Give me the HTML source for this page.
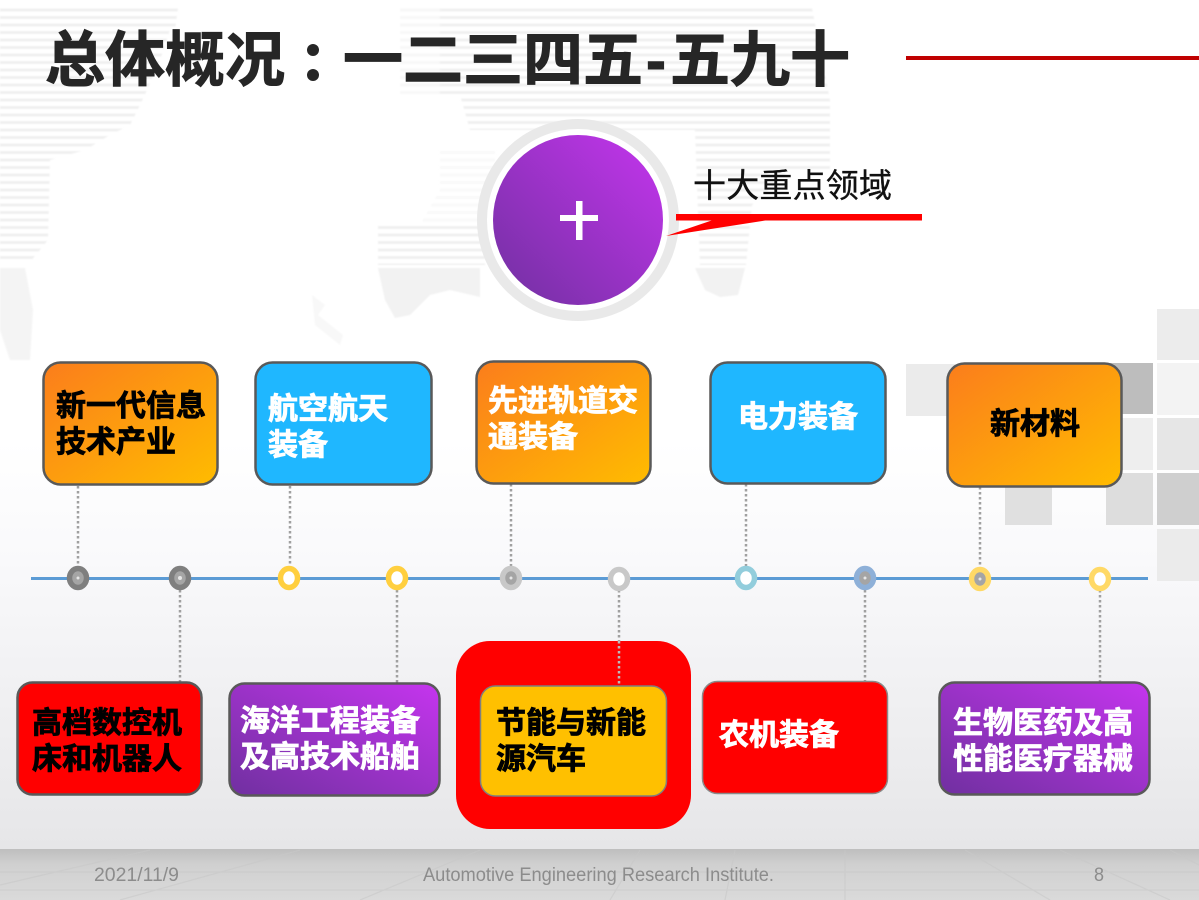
<!DOCTYPE html>
<html lang="zh"><head><meta charset="utf-8"><style>
html,body{margin:0;padding:0;background:#fff}
svg{display:block}
.t{font-family:"Liberation Sans","Noto Sans CJK SC",sans-serif;font-weight:700;font-size:30px}
</style></head><body>
<svg width="1199" height="900" viewBox="0 0 1199 900" xmlns="http://www.w3.org/2000/svg">
<defs>
<linearGradient id="bg" x1="0" y1="0" x2="0" y2="1"><stop offset="0" stop-color="#fff"/><stop offset=".52" stop-color="#fff"/><stop offset=".66" stop-color="#f9f9fb"/><stop offset="1" stop-color="#e6e6e8"/></linearGradient>
<linearGradient id="floor" x1="0" y1="0" x2="0" y2="1"><stop offset="0" stop-color="#bebebe"/><stop offset=".3" stop-color="#d0d0d0"/><stop offset="1" stop-color="#dadada"/></linearGradient>
<linearGradient id="or" x1="0" y1="0" x2="1" y2="1"><stop offset="0" stop-color="#fb7d1c"/><stop offset="1" stop-color="#ffbc00"/></linearGradient>
<linearGradient id="pu" x1="0" y1="1" x2="1" y2="0"><stop offset="0" stop-color="#7030a0"/><stop offset="1" stop-color="#c535ee"/></linearGradient>
<pattern id="st" width="8" height="7.5" patternUnits="userSpaceOnUse"><rect y="1" width="8" height="3" fill="#f0f0f0"/></pattern>
<filter id="bl" x="-5%" y="-5%" width="110%" height="110%"><feGaussianBlur stdDeviation=".7"/></filter>
</defs>
<rect width="1199" height="850" fill="url(#bg)"/>
<rect y="849" width="1199" height="51" fill="url(#floor)"/>
<g stroke="#c8c8c8" stroke-width="1.200" fill="none" opacity=".6">
<path d="M0 872H1199M0 890H1199M640 850L610 900M735 850L725 900M845 850V900M965 850L1050 900M1060 850L1170 900M1170 850L1199 865M480 850L360 900M300 850L120 900M150 850L0 885"/>
</g>
<g filter="url(#bl)">
<g fill="url(#st)">
<path d="M0 8H178L175 30H170L160 60L147 90L140 105L130 125L110 135L85 150L50 160L48 240L30 262H0Z"/>
<path d="M440 8H812L830 100V170H790L752 205L746 265H700L695 130H470L460 95H440Z"/>
<path d="M378 225H485V265H378Z"/>
</g>
<path d="M400 8H440V95H400Z" fill="url(#st)" opacity=".5"/>
<path d="M440 150H495V225H420L440 190Z" fill="url(#st)" opacity=".4"/>
<path d="M0 268H25L33 310L30 360H10L0 330Z" fill="#f4f4f4"/>
<path d="M378 268H480V297L450 290L430 295L410 315L395 318L385 300Z" fill="#f2f2f2"/>
<path d="M695 268H745L738 295L720 297L705 290Z" fill="#f2f2f2"/>
<path d="M312 295L325 305L318 315L343 335L340 345L315 325Z" fill="#f8f8f8"/>
</g>
<g>
<rect x="1157" y="309" width="42" height="51" fill="#ececec"/>
<rect x="1157" y="363" width="42" height="52" fill="#f3f3f3"/>
<rect x="1157" y="418" width="42" height="52" fill="#e6e6e6"/>
<rect x="1157" y="473" width="42" height="52" fill="#cfcfcf"/>
<rect x="1157" y="529" width="42" height="52" fill="#ebebeb"/>
<rect x="1106" y="363" width="47" height="51" fill="#bdbdbd"/>
<rect x="1106" y="418" width="47" height="52" fill="#eeeeee"/>
<rect x="1106" y="473" width="47" height="52" fill="#dddddd"/>
<rect x="906" y="364" width="54" height="52" fill="#ebebeb"/>
<rect x="1005" y="473" width="47" height="52" fill="#e0e0e0"/>
</g>
<g font-family="'Liberation Sans','Noto Sans CJK SC',sans-serif" font-weight="700" font-size="60" fill="#262626" stroke="#262626" stroke-width="1">
<text x="45" y="81">总体概况</text>
<text x="343" y="81">一二三四五</text>
<text x="646" y="81">-</text>
<text x="670" y="81">五九十</text>
</g>
<circle cx="313" cy="50" r="6" fill="#262626"/><circle cx="313" cy="75" r="6" fill="#262626"/>
<rect x="906" y="56" width="293" height="4" fill="#c00000"/>
<circle cx="578" cy="220" r="101" fill="#e8e8e8" fill-opacity=".95"/>
<circle cx="578" cy="220" r="91" fill="#fff"/>
<circle cx="578" cy="220" r="85" fill="url(#pu)"/>
<rect x="560" y="215" width="38" height="6" fill="#fff"/>
<rect x="576" y="201" width="6.500" height="39" fill="#fff"/>
<rect x="676" y="214" width="246" height="6.500" fill="#f00"/>
<path d="M666 236L716 219H775Z" fill="#f00"/>
<text x="693" y="197" font-family="'Liberation Sans','Noto Sans CJK SC',sans-serif" font-size="33" fill="#111" stroke="#111" stroke-width=".35" textLength="199">十大重点领域</text>
<g stroke="#a0a0a0" stroke-width="2.500" stroke-dasharray="2.500 2.500" fill="none">
<path d="M78 486V567M290 486V567M511 484V567M746 484V567M980 487V567M180 590V682M397 590V683M619 590V686M865 590V681M1100 590V682"/>
</g>
<rect x="31" y="577" width="1117" height="3" fill="#5b9bd5"/>
<g stroke-width="5.500">
<ellipse cx="78" cy="578" rx="8.500" ry="9.500" stroke="#7f7f7f" fill="#a5a5a5"/>
<ellipse cx="180" cy="578" rx="8.500" ry="9.500" stroke="#7f7f7f" fill="#a5a5a5"/>
<ellipse cx="289" cy="578" rx="8.500" ry="9.500" stroke="#ffcf3f" fill="#fff"/>
<ellipse cx="397" cy="578" rx="8.500" ry="9.500" stroke="#ffcf3f" fill="#fff"/>
<ellipse cx="511" cy="578" rx="8.500" ry="9.500" stroke="#c8c8c8" fill="#a5a5a5"/>
<ellipse cx="619" cy="579" rx="8.500" ry="9.500" stroke="#c8c8c8" fill="#fff"/>
<ellipse cx="746" cy="578" rx="8.500" ry="9.500" stroke="#92cddc" fill="#fff"/>
<ellipse cx="865" cy="578" rx="8.500" ry="9.500" stroke="#8eb0d8" fill="#a5a5a5"/>
<ellipse cx="980" cy="579" rx="8.500" ry="9.500" stroke="#ffd966" fill="#a5a5a5"/>
<ellipse cx="1100" cy="579" rx="8.500" ry="9.500" stroke="#ffd966" fill="#fff"/>
</g>
<g fill="#e6e6e6">
<circle cx="78" cy="578" r="1.500"/><circle cx="180" cy="578" r="2"/><circle cx="511" cy="578" r="1.500"/><circle cx="865" cy="578" r="1.500"/><circle cx="980" cy="579" r="1.500"/>
</g>
<g stroke="#595959" stroke-width="2.500">
<rect x="43.500" y="362.500" width="174" height="122" rx="17" fill="url(#or)"/>
<rect x="255.500" y="362.500" width="176" height="122" rx="17" fill="#1fb7ff"/>
<rect x="476.500" y="361.500" width="174" height="122" rx="17" fill="url(#or)"/>
<rect x="710.500" y="362.500" width="175" height="121" rx="17" fill="#1fb7ff"/>
<rect x="947.500" y="363.500" width="174" height="123" rx="17" fill="url(#or)"/>
<rect x="17.500" y="682.500" width="184" height="112" rx="15" fill="#f00"/>
<rect x="229.500" y="683.500" width="210" height="112" rx="15" fill="url(#pu)"/>
</g>
<rect x="456" y="641" width="235" height="188" rx="34" fill="#f00"/>
<path d="M619 641V686" stroke="#bbb" stroke-width="2.500" stroke-dasharray="2.500 2.500"/>
<rect x="480.500" y="686" width="186" height="110" rx="15" fill="#ffc000" stroke="#7f7f7f" stroke-width="1.500"/>
<rect x="702.500" y="681.500" width="185" height="112" rx="15" fill="#f00" stroke="#8a8a8a" stroke-width="1.500"/>
<rect x="939.500" y="682.500" width="210" height="112" rx="15" fill="url(#pu)" stroke="#595959" stroke-width="2.500"/>
<g class="t" fill="#000" stroke="#000" stroke-width=".8">
<text x="56" y="416">新一代信息</text><text x="56" y="452">技术产业</text>
<text x="990" y="434">新材料</text>
<text x="32" y="733">高档数控机</text><text x="32" y="769">床和机器人</text>
<text x="496" y="733">节能与新能</text><text x="496" y="769">源汽车</text>
</g>
<g class="t" fill="#fff" stroke="#fff" stroke-width=".8">
<text x="268" y="419">航空航天</text><text x="268" y="455">装备</text>
<text x="488" y="411">先进轨道交</text><text x="488" y="447">通装备</text>
<text x="738" y="427">电力装备</text>
<text x="240" y="731">海洋工程装备</text><text x="240" y="767">及高技术船舶</text>
<text x="719" y="745">农机装备</text>
<text x="953" y="733">生物医药及高</text><text x="953" y="769">性能医疗器械</text>
</g>
<g font-family="'Liberation Sans',sans-serif" font-size="19" fill="#8c8c8c">
<text x="94" y="881" textLength="85" lengthAdjust="spacingAndGlyphs">2021/11/9</text>
<text x="423" y="881" textLength="351" lengthAdjust="spacingAndGlyphs">Automotive Engineering Research Institute.</text>
<text x="1094" y="881" textLength="10" lengthAdjust="spacingAndGlyphs">8</text>
</g>
</svg>
</body></html>
